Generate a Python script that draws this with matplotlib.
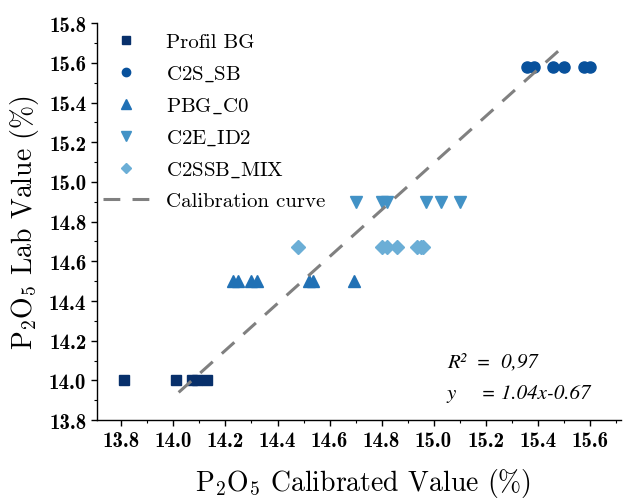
import matplotlib
matplotlib.use("Agg")
import matplotlib.pyplot as plt
from matplotlib.ticker import MultipleLocator, FormatStrFormatter

plt.rcParams['font.family'] = ['cmr10']
plt.rcParams['mathtext.fontset'] = 'cm'
plt.rcParams['axes.unicode_minus'] = False

labels = ['Profil BG', r'C2S$\_$SB', r'PBG$\_$C0', r'C2E$\_$ID2', r'C2SSB$\_$MIX', 'Calibration curve']
profil_x = [13.81, 14.01, 14.07, 14.09, 14.13]
profil_y = [14.00, 14.00, 14.00, 14.00, 14.00]
c2s_x = [15.36, 15.385, 15.46, 15.50, 15.58, 15.60]
c2s_y = [15.58, 15.58, 15.58, 15.58, 15.58, 15.58]
pbg_x = [14.23, 14.25, 14.30, 14.32, 14.52, 14.535, 14.695]
pbg_y = [14.50, 14.50, 14.50, 14.50, 14.50, 14.50, 14.50]
c2e_x = [14.70, 14.80, 14.82, 14.97, 15.03, 15.10]
c2e_y = [14.90, 14.90, 14.90, 14.90, 14.90, 14.90]
mix_x = [14.48, 14.80, 14.82, 14.86, 14.935, 14.95, 14.96]
mix_y = [14.67, 14.67, 14.67, 14.67, 14.67, 14.67, 14.67]
calib_x = [14.02, 15.48]
calib_y = [13.94, 15.66]

fig = plt.figure(figsize=(6.24, 5.02), dpi=100)
ax = fig.add_axes([0.155, 0.161, 0.84, 0.791])

ax.plot(profil_x, profil_y, 's', color='#08306b', ms=7, label=labels[0], linestyle='none')
ax.plot(c2s_x, c2s_y, 'o', color='#08519c', ms=8, label=labels[1], linestyle='none')
ax.plot(pbg_x, pbg_y, '^', color='#2171b5', ms=9, label=labels[2], linestyle='none')
ax.plot(c2e_x, c2e_y, 'v', color='#4292c6', ms=9, label=labels[3], linestyle='none')
ax.plot(mix_x, mix_y, 'D', color='#6baed6', ms=7, label=labels[4], linestyle='none')
ax.plot(calib_x, calib_y, color='#808080', lw=2.2, dashes=(5.5, 4), label=labels[5])

ax.set_xlim(13.705, 15.72)
ax.set_ylim(13.8, 15.8)
ax.xaxis.set_major_locator(MultipleLocator(0.2))
ax.xaxis.set_minor_locator(MultipleLocator(0.1))
ax.yaxis.set_major_locator(MultipleLocator(0.2))
ax.yaxis.set_minor_locator(MultipleLocator(0.1))
ax.xaxis.set_major_formatter(FormatStrFormatter('%.1f'))
ax.yaxis.set_major_formatter(FormatStrFormatter('%.1f'))
ax.spines['top'].set_visible(False)
ax.spines['right'].set_visible(False)
for s in ['left', 'bottom']:
    ax.spines[s].set_linewidth(1.0)
ax.tick_params(which='major', direction='out', length=4.5, width=1.0, labelsize=15, pad=3)
ax.tick_params(which='minor', direction='out', length=2.5, width=0.8)
for lab in ax.get_xticklabels() + ax.get_yticklabels():
    lab.set_family('cmb10')

ax.set_xlabel(r'$\mathregular{P_2O_5}$ Calibrated Value (%)', fontsize=20, labelpad=8)
ax.xaxis.set_label_coords(0.508, -0.115)
ax.set_ylabel(r'$\mathregular{P_2O_5}$ Lab Value (%)', fontsize=20, labelpad=6)

leg = ax.legend(loc='upper left', bbox_to_anchor=(-0.006, 1.0), frameon=False,
                fontsize=15, markerscale=0.75, handlelength=2.2, borderaxespad=0.0,
                borderpad=0.45, labelspacing=0.6, handletextpad=0.85)

ax.text(0.668, 0.135, 'R²  =  0,97', transform=ax.transAxes, fontsize=15,
        family='STIXGeneral', style='italic')
ax.text(0.668, 0.055, 'y     = 1.04x-0.67', transform=ax.transAxes, fontsize=15,
        family='STIXGeneral', style='italic')

fig.savefig('out.png', dpi=100)
